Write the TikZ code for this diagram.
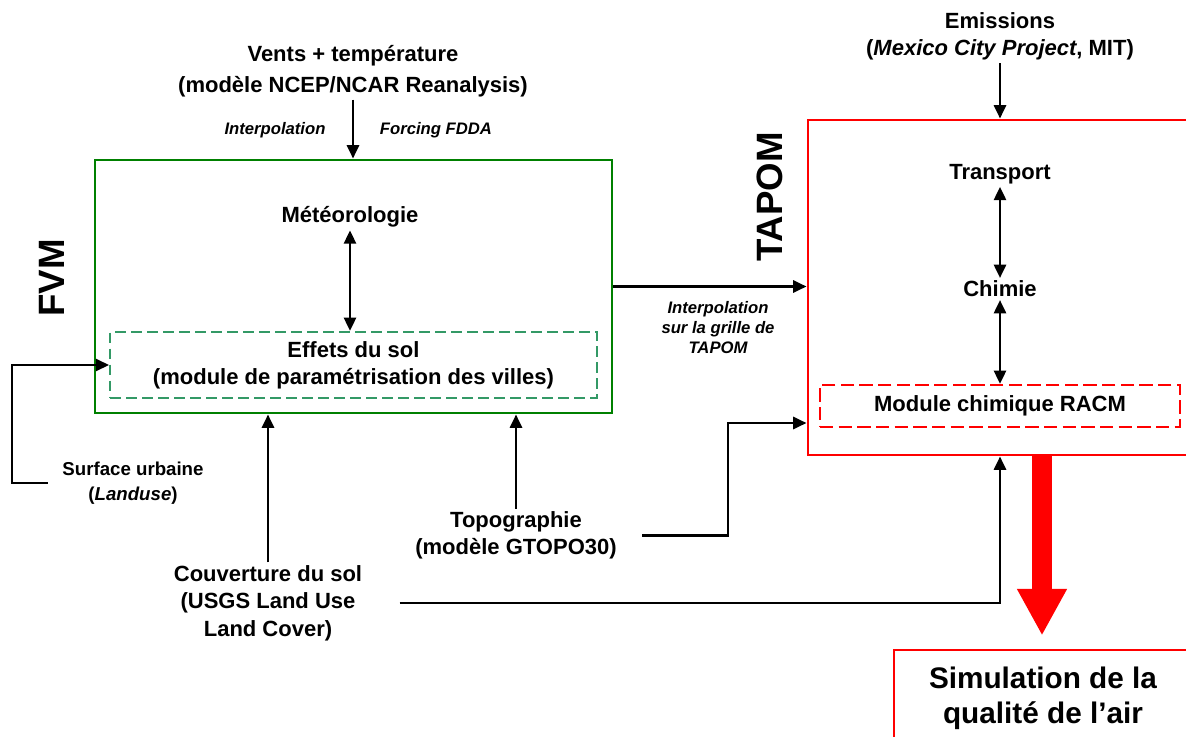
\documentclass[tikz,border=0pt]{standalone}
\usepackage{fontspec}
\setmainfont{Liberation Sans}
\usepackage{tikz}
\usetikzlibrary{positioning,arrows.meta,calc}
\definecolor{fvmgreen}{HTML}{008000}
\definecolor{solgreen}{HTML}{339966}
\definecolor{tapomred}{HTML}{FF0000}

\begin{document}
\begin{tikzpicture}[x=0.75pt,y=-0.75pt,
  lbl/.style={font=\bfseries\fontsize{16.5}{20.5}\selectfont,align=center,inner sep=2pt},
  note/.style={font=\bfseries\itshape\fontsize{12.5}{15}\selectfont,align=center,inner sep=1pt},
  modtitle/.style={font=\bfseries\fontsize{27.5}{30}\selectfont,rotate=90},
  arr/.style={draw,line width=2pt,-{Triangle[length=10pt,width=9pt]}},
  dbl/.style={draw,line width=2pt,{Triangle[length=10pt,width=9pt]}-{Triangle[length=10pt,width=9pt]}}]
  \useasboundingbox (0,0) rectangle (1186,736);
  % FVM block
  \node[draw=fvmgreen,line width=2.2pt,minimum width=387.75pt,minimum height=189.75pt] (fvm) at (353.5,286.5) {};
  \node[modtitle] (fvmlbl) at (52,278) {FVM};
  \node[lbl] (meteo) at (350,217) {Météorologie};
  \node[lbl,draw=solgreen,line width=1.6pt,dash pattern=on 8pt off 4pt,minimum width=365pt,minimum height=49.5pt] (effets) at (353.5,365) {Effets du sol\\(module de paramétrisation des villes)};
  \node[lbl,font=\bfseries\fontsize{16.5}{23}\selectfont] (vents) at (353,71) {Vents + température\\(modèle NCEP/NCAR Reanalysis)};
  \node[note] (interpa) at (275,130) {Interpolation};
  \node[note] (fdda) at (436,130) {Forcing FDDA};
  \node[lbl,font=\bfseries\fontsize{14}{18.75}\selectfont] (urbaine) at (133,483) {Surface urbaine\\(\textit{Landuse})};
  \node[lbl] (couv) at (268,603) {Couverture du sol\\(USGS Land Use\\Land Cover)};
  \node[lbl] (topo) at (516,535.5) {Topographie\\(modèle GTOPO30)};
  % TAPOM block
  \node[draw=tapomred,line width=2.2pt,minimum width=288pt,minimum height=251.25pt] (tapom) at (1000,287.5) {};
  \node[modtitle] (tapomlbl) at (770,197) {TAPOM};
  \node[lbl] (emis) at (1000,36.5) {Emissions\\(\textit{Mexico City Project}, MIT)};
  \node[lbl] (transport) at (1000,174) {Transport};
  \node[lbl] (chimie) at (1000,289) {Chimie};
  \node[lbl,draw=tapomred,line width=1.6pt,dash pattern=on 10pt off 4pt,minimum width=270pt,minimum height=31.5pt] (racm) at (1000,406) {Module chimique RACM};
  \node[note] (interpb) at (718,328) {Interpolation\\sur la grille de\\TAPOM};
  \node[draw=tapomred,line width=2.2pt,minimum width=223.5pt,minimum height=72pt,align=center,
        font=\bfseries\fontsize{22.3}{26}\selectfont] (sim) at (1043,698) {Simulation de la\\qualité de l’air};
  % connectors
  \coordinate (urbbend) at (12,0);
  \coordinate (topobend) at (728,0);
  \coordinate (racmin) at ($(tapom.west |- racm.center)+(0,17)$);
  \coordinate (redx) at (1042,0);
  \draw[arr] (vents.south) -- (vents.south |- fvm.north);
  \draw[dbl] (meteo.south) -- (meteo.south |- effets.north);
  \draw[arr,shorten <=9pt] (urbaine.west) -- (urbaine.west -| urbbend) |- (effets.west);
  \draw[arr] (couv.north) -- (couv.north |- fvm.south);
  \draw[arr] (topo.north) -- (topo.north |- fvm.south);
  \draw[arr] (fvm.east) -- (fvm.east -| tapom.west);
  \draw[arr,shorten <=17pt] (topo.east) -- (topo.east -| topobend) |- (racmin);
  \draw[arr,shorten <=26pt] (couv.east) -| (tapom.south);
  \draw[arr] (emis.south) -- (tapom.north);
  \draw[dbl] (transport) -- (chimie);
  \draw[dbl] (chimie) -- (racm.north);
  \draw[tapomred,line width=15pt,-{Triangle[length=35pt,width=35pt]}] (tapom.south -| redx) -- ($(sim.north -| redx)+(0,-13)$);
\end{tikzpicture}
\end{document}
